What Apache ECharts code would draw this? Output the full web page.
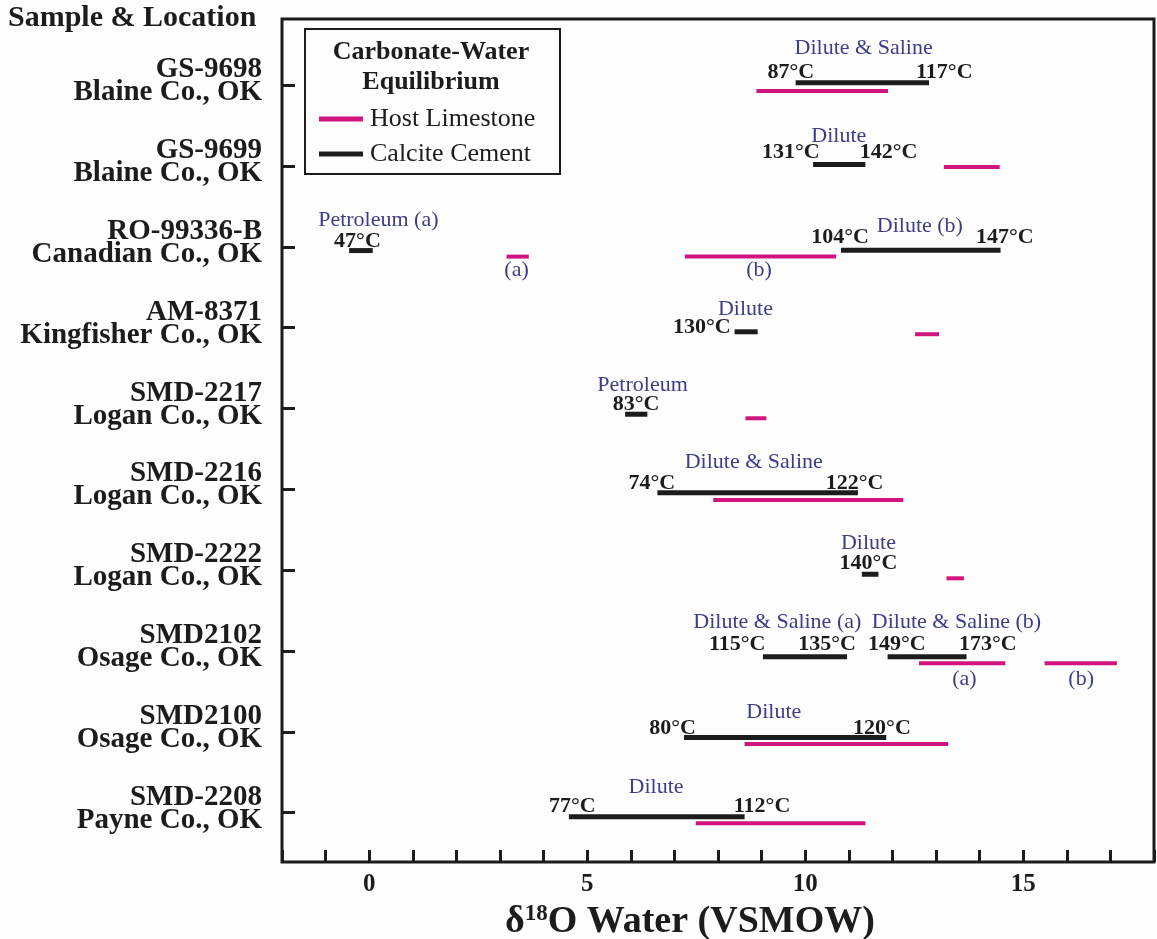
<!DOCTYPE html>
<html>
<head>
<meta charset="utf-8">
<script src="https://cdn.jsdelivr.net/npm/echarts@6/dist/echarts.min.js"></script>
<style>
  html, body { margin: 0; padding: 0; background: #fdfdfd; }
  #chart { width: 1157px; height: 939px; }
</style>
</head>
<body>
<div id="chart"></div>
<script>
// samples, top to bottom (row index = position in array)
var samples = ['GS-9698', 'GS-9699', 'RO-99336-B', 'AM-8371', 'SMD-2217',
               'SMD-2216', 'SMD-2222', 'SMD2102', 'SMD2100', 'SMD-2208'];
var locations = ['Blaine Co., OK', 'Blaine Co., OK', 'Canadian Co., OK', 'Kingfisher Co., OK', 'Logan Co., OK',
                 'Logan Co., OK', 'Logan Co., OK', 'Osage Co., OK', 'Osage Co., OK', 'Payne Co., OK'];

// [from, to, row] in d18O water (VSMOW)
var calcite = [
  [9.78, 12.84, -0.03], [10.18, 11.38, 0.98], [-0.46, 0.08, 2.045], [10.82, 14.48, 2.04],
  [8.38, 8.91, 3.05], [5.87, 6.38, 4.07], [6.61, 11.21, 5.04], [11.30, 11.68, 6.05],
  [9.03, 10.96, 7.07], [11.89, 13.70, 7.07], [7.22, 11.86, 8.07], [4.58, 8.61, 9.05]
];
var host = [
  [8.88, 11.90, 0.07], [13.18, 14.46, 1.01], [3.15, 3.66, 2.12], [7.24, 10.71, 2.12],
  [12.52, 13.07, 3.08], [8.63, 9.11, 4.12], [7.89, 12.25, 5.13], [13.24, 13.64, 6.10],
  [12.61, 14.59, 7.15], [15.49, 17.15, 7.15], [8.61, 13.28, 8.15], [7.49, 11.38, 9.13]
];

// temperature annotations [x, row, text]
var temps = [
  [9.67, -0.155, '87°C'], [13.19, -0.155, '117°C'],
  [9.67, 0.835, '131°C'], [11.91, 0.835, '142°C'],
  [-0.27, 1.93, '47°C'], [10.80, 1.88, '104°C'], [14.58, 1.88, '147°C'],
  [7.63, 3.0, '130°C'],
  [6.12, 3.95, '83°C'],
  [6.48, 4.92, '74°C'], [11.13, 4.92, '122°C'],
  [11.45, 5.91, '140°C'],
  [8.44, 6.92, '115°C'], [10.50, 6.92, '135°C'], [12.10, 6.92, '149°C'], [14.19, 6.92, '173°C'],
  [6.96, 7.955, '80°C'], [11.76, 7.955, '120°C'],
  [4.66, 8.925, '77°C'], [9.01, 8.925, '112°C']
];
// fluid type annotations [x, row, text]
var fluids = [
  [11.34, -0.46, 'Dilute & Saline'],
  [10.77, 0.625, 'Dilute'],
  [0.21, 1.665, 'Petroleum (a)'], [12.63, 1.74, 'Dilute (b)'], [3.38, 2.29, '(a)'], [8.94, 2.29, '(b)'],
  [8.63, 2.77, 'Dilute'],
  [6.27, 3.71, 'Petroleum'],
  [8.82, 4.66, 'Dilute & Saline'],
  [11.45, 5.67, 'Dilute'],
  [9.36, 6.64, 'Dilute & Saline (a)'], [13.47, 6.64, 'Dilute & Saline (b)'],
  [13.65, 7.35, '(a)'], [16.33, 7.35, '(b)'],
  [9.28, 7.76, 'Dilute'],
  [6.58, 8.69, 'Dilute']
];

var serif = '"Liberation Serif", "Times New Roman", serif';
var ink = '#1c1c1c';
var magenta = '#d0157f';
var navy = '#3d3d88';

var chart = echarts.init(document.getElementById('chart'));

function segment(color, width) {
  return function (params, api) {
    var a = api.coord([api.value(0), api.value(2)]);
    var b = api.coord([api.value(1), api.value(2)]);
    return {
      type: 'line',
      shape: { x1: a[0], y1: a[1], x2: b[0], y2: b[1] },
      style: { stroke: color, lineWidth: width }
    };
  };
}

function textSeries(name, items, color, weight) {
  return {
    type: 'custom',
    name: name,
    data: items.map(function (d) { return [d[0], d[1]]; }),
    clip: false,
    silent: true,
    renderItem: function (params, api) {
      var p = api.coord([api.value(0), api.value(1)]);
      return {
        type: 'text',
        x: p[0], y: p[1],
        style: {
          text: items[params.dataIndex][2],
          fill: color,
          fontFamily: serif,
          fontSize: 22,
          fontWeight: weight,
          align: 'center',
          verticalAlign: 'middle'
        }
      };
    }
  };
}

var rows = samples.map(function (s, i) { return i; });

var option = {
  backgroundColor: '#fdfdfd',
  animation: false,
  grid: {
    left: 282, top: 19, right: 2, bottom: 77,
    show: true, borderWidth: 3, borderColor: ink
  },
  xAxis: {
    type: 'value',
    min: -2, max: 18, interval: 1,
    axisLine: { show: false, onZero: false },
    axisTick: { inside: true, length: 12, lineStyle: { color: ink, width: 3 } },
    splitLine: { show: false },
    axisLabel: {
      margin: 10,
      color: ink, fontFamily: serif, fontSize: 25, fontWeight: 'bold',
      formatter: function (v) { return v % 5 === 0 ? String(v) : ''; }
    }
  },
  yAxis: {
    type: 'value',
    inverse: true,
    min: -0.82, max: 9.61,
    axisLine: { show: false, onZero: false },
    splitLine: { show: false },
    axisTick: {
      inside: true, length: 13,
      customValues: rows,
      lineStyle: { color: ink, width: 3 }
    },
    axisLabel: {
      margin: 20,
      customValues: rows,
      padding: [0, 0, 8, 0],
      formatter: function (v) {
        var i = Math.round(v);
        return '{a|' + samples[i] + '}\n{a|' + locations[i] + '}';
      },
      rich: {
        a: { fontFamily: serif, fontSize: 29, fontWeight: 'bold', lineHeight: 23, color: ink, align: 'right' }
      }
    }
  },
  legend: {
    data: ['Host Limestone', 'Calcite Cement'],
    orient: 'vertical',
    left: 314, top: 101,
    icon: 'rect',
    itemWidth: 44, itemHeight: 5,
    itemGap: 9,
    selectedMode: false,
    textStyle: { fontFamily: serif, fontSize: 26, color: ink, padding: [0, 0, 0, 2] }
  },
  graphic: [
    {
      type: 'text', left: 8, top: 3,
      style: { text: 'Sample & Location', fontFamily: serif, fontSize: 30, fontWeight: 'bold', fill: ink }
    },
    {
      type: 'rect', left: 304, top: 28, z: 0,
      shape: { width: 255, height: 145 },
      style: { fill: '#fdfdfd', stroke: ink, lineWidth: 2 }
    },
    {
      type: 'text', x: 431, y: 37, z: 10,
      style: { text: 'Carbonate-Water\nEquilibrium', fontFamily: serif, fontSize: 26, fontWeight: 'bold',
               lineHeight: 30, fill: ink, align: 'center', verticalAlign: 'top' }
    },
    {
      type: 'text', left: 505, top: 903,
      style: {
        text: '{a|δ}{s|18}{a|O Water (VSMOW)}',
        rich: {
          a: { fontFamily: serif, fontSize: 38, fontWeight: 'bold', fill: ink, verticalAlign: 'bottom' },
          s: { fontFamily: serif, fontSize: 23, fontWeight: 'bold', fill: ink, verticalAlign: 'top' }
        }
      }
    }
  ],
  series: [
    {
      type: 'custom', name: 'Host Limestone',
      itemStyle: { color: magenta },
      data: host, clip: false, silent: true,
      renderItem: segment(magenta, 4)
    },
    {
      type: 'custom', name: 'Calcite Cement',
      itemStyle: { color: ink },
      data: calcite, clip: false, silent: true,
      renderItem: segment(ink, 5)
    },
    textSeries('temps', temps, ink, 'bold'),
    textSeries('fluids', fluids, navy, 'normal')
  ]
};

chart.setOption(option);
</script>
</body>
</html>
